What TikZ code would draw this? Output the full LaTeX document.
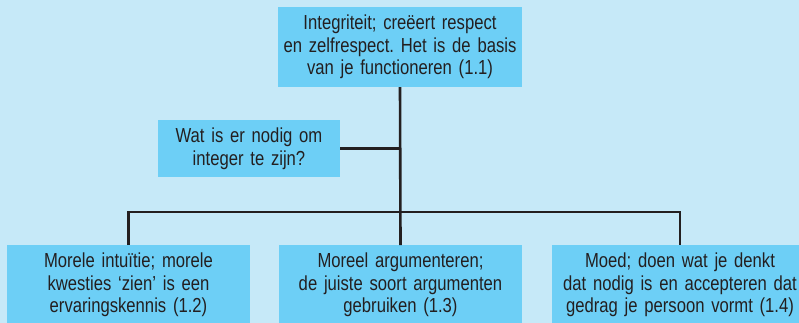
\documentclass[tikz,border=0pt]{standalone}
\usepackage{fontspec}
\setmainfont{Liberation Sans}[FakeStretch=0.82]
\definecolor{bg}{HTML}{C6E9F8}
\definecolor{boxc}{HTML}{6DCFF6}
\definecolor{ink}{HTML}{231F20}
\begin{document}
\frenchspacing
\begin{tikzpicture}[x=1pt,y=-1pt,
  box/.style={fill=boxc, draw=none, inner sep=0pt, minimum height=80pt, text=ink,
    align=center, font=\fontsize{20.3}{22.5}\selectfont},
  wire/.style={draw=ink, line width=2.6pt}]
\useasboundingbox (0,0) rectangle (799,322);
\fill[bg] (-5,-5) rectangle (805,330);
\node[box, minimum width=244pt, text width=240pt] (top) at (400,47)
  {Integriteit; creëert respect\\en zelfrespect. Het is de basis\\van je functioneren (1.1)};
\node[box, minimum width=182pt, minimum height=57pt, text width=178pt] (side) at (249,148.5)
  {Wat is er nodig om\\integer te zijn?};
\fill[boxc] (7,290) rectangle (250,335);
\fill[boxc] (279,290) rectangle (522,335);
\fill[boxc] (552,290) rectangle (810,335);
\node[box, minimum width=243pt, text width=240pt, anchor=north] (b1) at (128.5,245)
  {Morele intuïtie; morele\\kwesties ‘zien’ is een\\ervaringskennis (1.2)};
\node[box, minimum width=243pt, text width=240pt, anchor=north] (b2) at (400.5,245)
  {Moreel argumenteren;\\de juiste soort argumenten\\gebruiken (1.3)};
\node[box, minimum width=256pt, text width=252pt, anchor=north] (b3) at (680,245)
  {Moed; doen wat je denkt\\dat nodig is en accepteren dat\\gedrag je persoon vormt (1.4)};
\coordinate (bus) at (400.5,212);
\draw[wire] (top.south) -- (b2.north);
\draw[wire] (side.east) -- (side.east -| top.south);
\draw[wire] (b1.north) |- (bus) -| (b3.north);
\end{tikzpicture}
\end{document}
